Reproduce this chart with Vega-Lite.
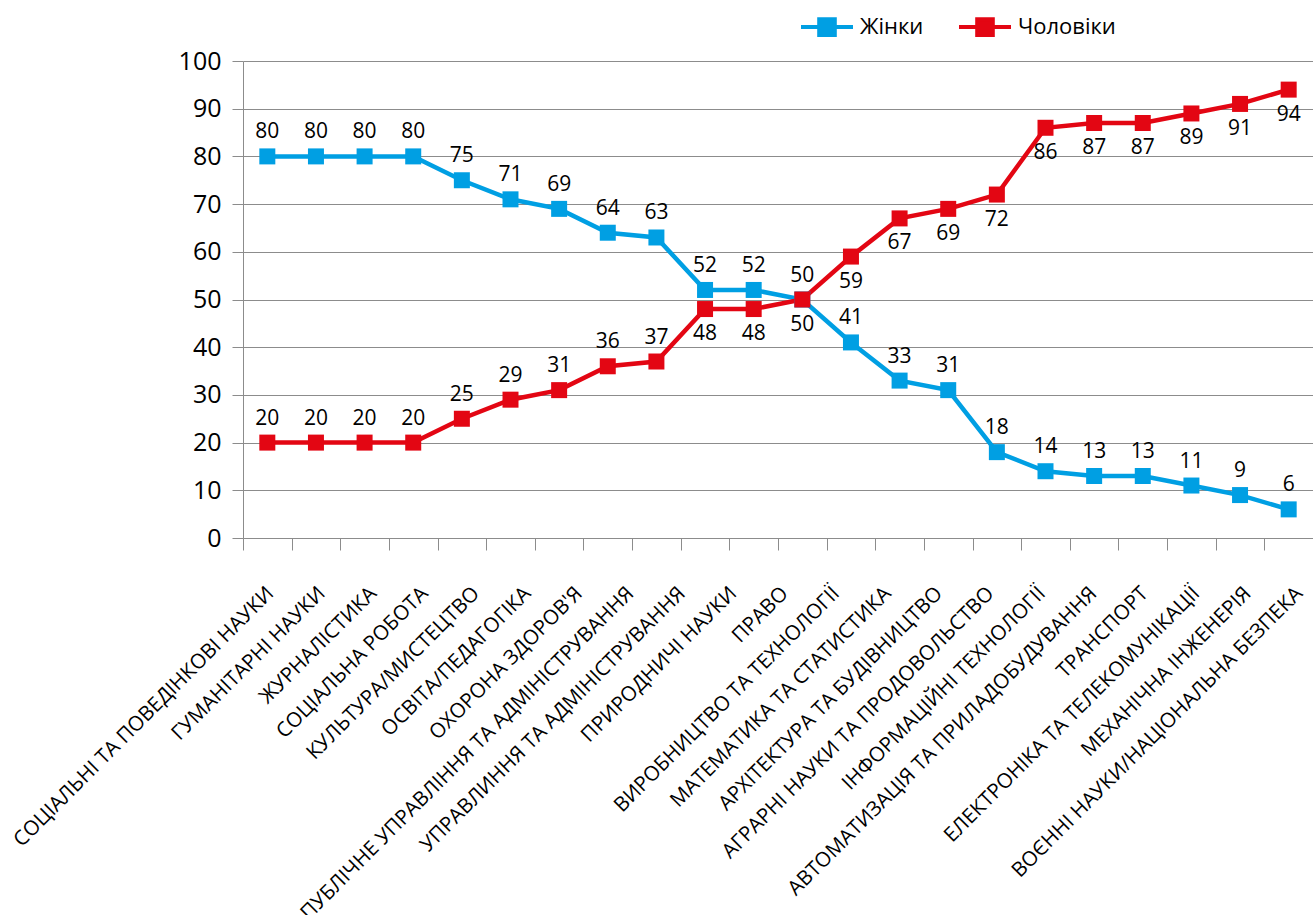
{
  "$schema": "https://vega.github.io/schema/vega-lite/v6.json",
  "width": 1070,
  "height": 477,
  "autosize": {"type": "none"},
  "padding": {"left": 243, "top": 61, "right": 0, "bottom": 377},
  "background": "white",
  "config": {"font": "Open Sans", "view": {"stroke": null}},
  "data": {
    "values": [
      {"галузь": "Соціальні та поведінкові науки", "Жінки": 80, "Чоловіки": 20},
      {"галузь": "Гуманітарні науки", "Жінки": 80, "Чоловіки": 20},
      {"галузь": "Журналістика", "Жінки": 80, "Чоловіки": 20},
      {"галузь": "Соціальна робота", "Жінки": 80, "Чоловіки": 20},
      {"галузь": "Культура/мистецтво", "Жінки": 75, "Чоловіки": 25},
      {"галузь": "Освіта/педагогіка", "Жінки": 71, "Чоловіки": 29},
      {"галузь": "Охорона здоров'я", "Жінки": 69, "Чоловіки": 31},
      {"галузь": "Публічне управління та адміністрування", "Жінки": 64, "Чоловіки": 36},
      {"галузь": "Управлиння та адміністрування", "Жінки": 63, "Чоловіки": 37},
      {"галузь": "Природничі науки", "Жінки": 52, "Чоловіки": 48},
      {"галузь": "Право", "Жінки": 52, "Чоловіки": 48},
      {"галузь": "Виробництво та технології", "Жінки": 50, "Чоловіки": 50},
      {"галузь": "Математика та статистика", "Жінки": 41, "Чоловіки": 59},
      {"галузь": "Архітектура та будівництво", "Жінки": 33, "Чоловіки": 67},
      {"галузь": "Аграрні науки та продовольство", "Жінки": 31, "Чоловіки": 69},
      {"галузь": "Інформаційні технології", "Жінки": 18, "Чоловіки": 72},
      {"галузь": "Автоматизація та приладобудування", "Жінки": 14, "Чоловіки": 86},
      {"галузь": "Транспорт", "Жінки": 13, "Чоловіки": 87},
      {"галузь": "Електроніка та телекомунікації", "Жінки": 13, "Чоловіки": 87},
      {"галузь": "Механічна інженерія", "Жінки": 11, "Чоловіки": 89},
      {"галузь": "Воєнні науки/національна безпека", "Жінки": 9, "Чоловіки": 91},
      {"галузь": " ", "Жінки": 6, "Чоловіки": 94}
    ]
  },
  "transform": [{"fold": ["Жінки", "Чоловіки"], "as": ["стать", "частка"]}],
  "encoding": {
    "x": {
      "field": "галузь",
      "type": "nominal",
      "sort": null,
      "title": null,
      "scale": {"paddingInner": 0, "paddingOuter": 0},
      "axis": {
        "labelAngle": -45,
        "labelAlign": "right",
        "labelBaseline": "middle",
        "labelFontSize": 20.5,
        "labelColor": "black",
        "labelPadding": 40,
        "labelLimit": 1000,
        "labelOverlap": false,
        "labelExpr": "upper(datum.label)",
        "labelOffset": {"expr": "2.7 + 59 * datum.index"},
        "tickSize": 12,
        "tickBand": "extent",
        "tickColor": "#8c8c8c",
        "domainColor": "#8c8c8c",
        "grid": false
      }
    },
    "y": {
      "field": "частка",
      "type": "quantitative",
      "title": null,
      "scale": {"domain": [0, 100]},
      "axis": {
        "values": [0, 10, 20, 30, 40, 50, 60, 70, 80, 90, 100],
        "labelFontSize": 25,
        "labelColor": "black",
        "labelPadding": 11,
        "tickSize": 11,
        "tickColor": "#8c8c8c",
        "domainColor": "#8c8c8c",
        "gridColor": "#8c8c8c",
        "gridOpacity": 1,
        "grid": true
      }
    }
  },
  "layer": [
    {
      "mark": {"type": "line", "strokeWidth": 4.5},
      "encoding": {
        "color": {
          "field": "стать",
          "type": "nominal",
          "scale": {"domain": ["Жінки", "Чоловіки"], "range": ["#009FE3", "#E30613"]},
          "legend": {
            "orient": "none",
            "legendX": 556,
            "legendY": -62,
            "direction": "horizontal",
            "title": null,
            "padding": 0,
            "symbolType": "M-1,0L1,0M-0.3,-0.3L0.3,-0.3L0.3,0.3L-0.3,0.3Z",
            "symbolSize": 2704,
            "symbolStrokeWidth": 4,
            "labelFontSize": 22,
            "labelColor": "black",
            "labelOffset": 5,
            "columnPadding": 27
          }
        }
      }
    },
    {
      "mark": {"type": "point", "shape": "square", "filled": true, "size": 256, "opacity": 1},
      "encoding": {"color": {"field": "стать", "type": "nominal"}}
    },
    {
      "transform": [{"filter": "datum['стать'] == 'Жінки' || datum['Чоловіки'] < datum['Жінки'] - 5"}],
      "mark": {"type": "text", "dy": -24, "fontSize": 21, "color": "black"},
      "encoding": {"text": {"field": "частка", "type": "quantitative"}}
    },
    {
      "transform": [{"filter": "datum['стать'] == 'Чоловіки' && datum['Чоловіки'] >= datum['Жінки'] - 5"}],
      "mark": {"type": "text", "dy": 25, "fontSize": 21, "color": "black"},
      "encoding": {"text": {"field": "частка", "type": "quantitative"}}
    }
  ]
}
